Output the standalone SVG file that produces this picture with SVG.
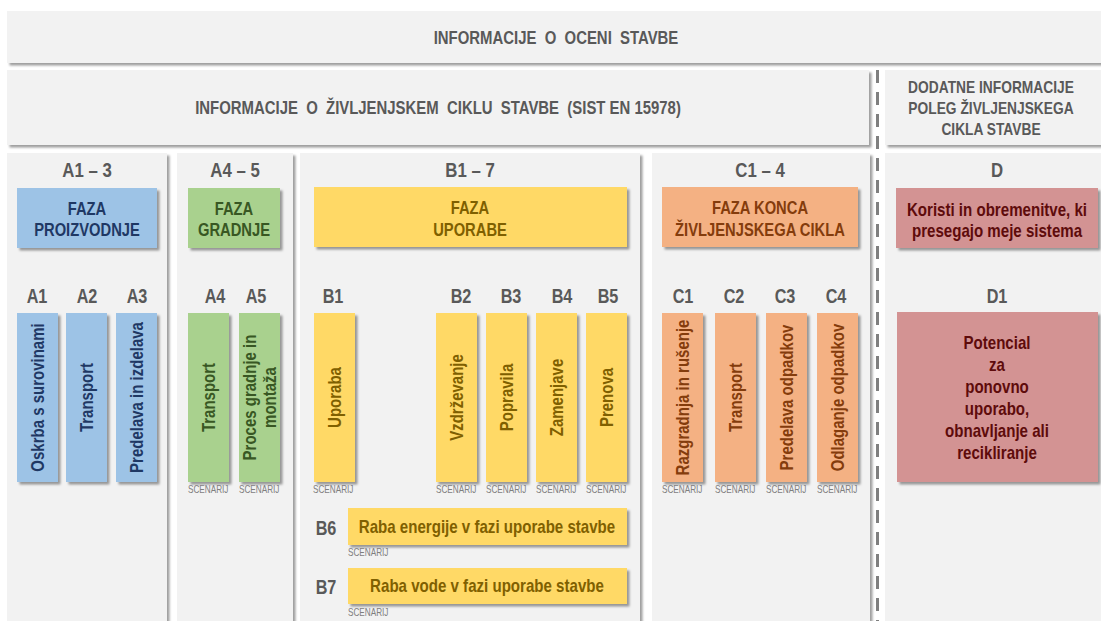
<svg xmlns="http://www.w3.org/2000/svg" width="1101" height="621" viewBox="0 0 1101 621">
<defs>
<filter id="sh" x="-0.2" y="-0.2" width="1.5" height="1.5">
<feDropShadow dx="2.5" dy="2.5" stdDeviation="1.3" flood-color="#000" flood-opacity="0.38"/>
</filter>
</defs>
<style>
text{font-family:"Liberation Sans",Arial,sans-serif;font-weight:bold;text-anchor:middle}
.panel{fill:#f2f2f2;filter:url(#sh)}
.box{filter:url(#sh)}
.hd{font-size:18.2px;fill:#595959}
.hd2{font-size:16.8px;fill:#595959}
.ttl{font-size:20.5px;fill:#595959}
.lbl{font-size:19.8px;fill:#595959}
.ph{font-size:18px}
.v{font-size:18.3px;dominant-baseline:central}
.big{font-size:18.4px}
.sc{font-size:10px;font-weight:normal;fill:#7f7f7f;text-anchor:start}
.fb{fill:#9dc3e6}.tb{fill:#1f3864}
.fg{fill:#a9d18e}.tg{fill:#385723}
.fy{fill:#ffd966}.ty{fill:#7f6000}
.fo{fill:#f4b183}.to{fill:#843c0c}
.fr{fill:#d39393}.tr{fill:#5e0b0b}
</style>
<rect width="1101" height="621" fill="#ffffff"/>

<g id="header-ocena">
<rect class="panel" x="7" y="11" width="1100" height="52"/>
<text class="hd" transform="translate(556,44) scale(.82,1)" xml:space="preserve">INFORMACIJE  O  OCENI  STAVBE</text>
</g>
<g id="header-lca">
<rect class="panel" x="7" y="70" width="862" height="75"/>
<text class="hd" transform="translate(438,114) scale(.82,1)" xml:space="preserve">INFORMACIJE  O  ŽIVLJENJSKEM  CIKLU  STAVBE  (SIST EN 15978)</text>
</g>
<g id="header-dodatne">
<rect class="panel" x="885" y="70" width="222" height="75"/>
<text class="hd2" transform="translate(991,93) scale(.82,1)">DODATNE INFORMACIJE</text>
<text class="hd2" transform="translate(991,114) scale(.82,1)">POLEG ŽIVLJENJSKEGA</text>
<text class="hd2" transform="translate(991,135) scale(.82,1)">CIKLA STAVBE</text>
</g>

<g id="divider">
<line x1="877.5" y1="70" x2="877.5" y2="621" stroke="#7f7f7f" stroke-width="3" stroke-dasharray="13 9"/>
</g>

<g id="col-a1-3">
<rect class="panel" x="7" y="153" width="160" height="480"/>
<text class="ttl" transform="translate(87,177) scale(.82,1)">A1 – 3</text>
<rect class="box fb" x="17" y="188" width="140" height="60"/>
<text class="ph tb" transform="translate(87,214.5) scale(.82,1)">FAZA</text>
<text class="ph tb" transform="translate(87,236) scale(.82,1)">PROIZVODNJE</text>
<text class="lbl" transform="translate(37,303) scale(.82,1)">A1</text>
<text class="lbl" transform="translate(87,303) scale(.82,1)">A2</text>
<text class="lbl" transform="translate(137,303) scale(.82,1)">A3</text>
</g>
<g id="a1"><rect class="box fb" x="17" y="313" width="41" height="169"/><text class="v tb" transform="translate(37.5,397.5) rotate(-90) scale(.82,1)">Oskrba s surovinami</text></g>
<g id="a2"><rect class="box fb" x="66" y="313" width="41" height="169"/><text class="v tb" transform="translate(86.5,397.5) rotate(-90) scale(.82,1)">Transport</text></g>
<g id="a3"><rect class="box fb" x="116" y="313" width="41" height="169"/><text class="v tb" transform="translate(136.5,397.5) rotate(-90) scale(.82,1)">Predelava in izdelava</text></g>

<g id="col-a4-5">
<rect class="panel" x="177" y="153" width="116" height="480"/>
<text class="ttl" transform="translate(235,177) scale(.82,1)">A4 – 5</text>
<rect class="box fg" x="188" y="188" width="92" height="60"/>
<text class="ph tg" transform="translate(234,214.5) scale(.82,1)">FAZA</text>
<text class="ph tg" transform="translate(234,236) scale(.82,1)">GRADNJE</text>
<text class="lbl" transform="translate(215,303) scale(.82,1)">A4</text>
<text class="lbl" transform="translate(256,303) scale(.82,1)">A5</text>
</g>
<g id="a4"><rect class="box fg" x="188" y="313" width="41" height="169"/><text class="v tg" transform="translate(208.5,397.5) rotate(-90) scale(.82,1)">Transport</text><text class="sc" transform="translate(188,493) scale(.82,1)">SCENARIJ</text></g>
<g id="a5"><rect class="box fg" x="239" y="313" width="41" height="169"/><text class="v tg" transform="translate(259.5,397.5) rotate(-90) scale(.82,1)"><tspan x="0" dy="-10">Proces gradnje in</tspan><tspan x="0" dy="20">montaža</tspan></text><text class="sc" transform="translate(239,493) scale(.82,1)">SCENARIJ</text></g>

<g id="col-b1-7">
<rect class="panel" x="300" y="153" width="340" height="480"/>
<text class="ttl" transform="translate(470,177) scale(.82,1)">B1 – 7</text>
<rect class="box fy" x="314" y="187" width="313" height="60"/>
<text class="ph ty" transform="translate(470,214) scale(.82,1)">FAZA</text>
<text class="ph ty" transform="translate(470,235.5) scale(.82,1)">UPORABE</text>
<text class="lbl" transform="translate(333,303) scale(.82,1)">B1</text>
<text class="lbl" transform="translate(461,303) scale(.82,1)">B2</text>
<text class="lbl" transform="translate(511,303) scale(.82,1)">B3</text>
<text class="lbl" transform="translate(562,303) scale(.82,1)">B4</text>
<text class="lbl" transform="translate(608,303) scale(.82,1)">B5</text>
</g>
<g id="b1"><rect class="box fy" x="314" y="313" width="41" height="169"/><text class="v ty" transform="translate(334.5,397.5) rotate(-90) scale(.82,1)">Uporaba</text><text class="sc" transform="translate(313,493) scale(.82,1)">SCENARIJ</text></g>
<g id="b2"><rect class="box fy" x="436" y="313" width="41" height="169"/><text class="v ty" transform="translate(456.5,397.5) rotate(-90) scale(.82,1)">Vzdrževanje</text><text class="sc" transform="translate(436,493) scale(.82,1)">SCENARIJ</text></g>
<g id="b3"><rect class="box fy" x="486" y="313" width="41" height="169"/><text class="v ty" transform="translate(506.5,397.5) rotate(-90) scale(.82,1)">Popravila</text><text class="sc" transform="translate(486,493) scale(.82,1)">SCENARIJ</text></g>
<g id="b4"><rect class="box fy" x="536" y="313" width="41" height="169"/><text class="v ty" transform="translate(556.5,397.5) rotate(-90) scale(.82,1)">Zamenjave</text><text class="sc" transform="translate(536,493) scale(.82,1)">SCENARIJ</text></g>
<g id="b5"><rect class="box fy" x="586" y="313" width="41" height="169"/><text class="v ty" transform="translate(606.5,397.5) rotate(-90) scale(.82,1)">Prenova</text><text class="sc" transform="translate(586,493) scale(.82,1)">SCENARIJ</text></g>
<g id="b6"><text class="lbl" transform="translate(326,535) scale(.82,1)">B6</text><rect class="box fy" x="348" y="508" width="279" height="37"/><text class="big ty" transform="translate(487,533) scale(.82,1)">Raba energije v fazi uporabe stavbe</text><text class="sc" transform="translate(348,556) scale(.82,1)">SCENARIJ</text></g>
<g id="b7"><text class="lbl" transform="translate(326,594) scale(.82,1)">B7</text><rect class="box fy" x="348" y="568" width="279" height="36"/><text class="big ty" transform="translate(487,592) scale(.82,1)">Raba vode v fazi uporabe stavbe</text><text class="sc" transform="translate(348,616) scale(.82,1)">SCENARIJ</text></g>

<g id="col-c1-4">
<rect class="panel" x="652" y="153" width="218" height="480"/>
<text class="ttl" transform="translate(760,177) scale(.82,1)">C1 – 4</text>
<rect class="box fo" x="662" y="187" width="196" height="60"/>
<text class="ph to" transform="translate(760,214) scale(.82,1)">FAZA KONCA</text>
<text class="ph to" transform="translate(760,235.5) scale(.82,1)">ŽIVLJENJSKEGA CIKLA</text>
<text class="lbl" transform="translate(683,303) scale(.82,1)">C1</text>
<text class="lbl" transform="translate(734,303) scale(.82,1)">C2</text>
<text class="lbl" transform="translate(785,303) scale(.82,1)">C3</text>
<text class="lbl" transform="translate(836,303) scale(.82,1)">C4</text>
</g>
<g id="c1"><rect class="box fo" x="662" y="313" width="41" height="169"/><text class="v to" transform="translate(682.5,397.5) rotate(-90) scale(.82,1)">Razgradnja in rušenje</text><text class="sc" transform="translate(662,493) scale(.82,1)">SCENARIJ</text></g>
<g id="c2"><rect class="box fo" x="715" y="313" width="41" height="169"/><text class="v to" transform="translate(735.5,397.5) rotate(-90) scale(.82,1)">Transport</text><text class="sc" transform="translate(715,493) scale(.82,1)">SCENARIJ</text></g>
<g id="c3"><rect class="box fo" x="766" y="313" width="41" height="169"/><text class="v to" transform="translate(786.5,397.5) rotate(-90) scale(.82,1)">Predelava odpadkov</text><text class="sc" transform="translate(766,493) scale(.82,1)">SCENARIJ</text></g>
<g id="c4"><rect class="box fo" x="817" y="313" width="41" height="169"/><text class="v to" transform="translate(837.5,397.5) rotate(-90) scale(.82,1)">Odlaganje odpadkov</text><text class="sc" transform="translate(817,493) scale(.82,1)">SCENARIJ</text></g>

<g id="col-d">
<rect class="panel" x="885" y="153" width="222" height="480"/>
<text class="ttl" transform="translate(997,177) scale(.82,1)">D</text>
<rect class="box fr" x="896" y="188" width="202" height="60"/>
<text class="big tr" transform="translate(997,216) scale(.82,1)">Koristi in obremenitve, ki</text>
<text class="big tr" transform="translate(997,237) scale(.82,1)">presegajo meje sistema</text>
<text class="lbl" transform="translate(997,303) scale(.82,1)">D1</text>
</g>
<g id="d1">
<rect class="box fr" x="897" y="312" width="201" height="170"/>
<text class="big tr" transform="translate(997,349) scale(.82,1)">Potencial</text>
<text class="big tr" transform="translate(997,371) scale(.82,1)">za</text>
<text class="big tr" transform="translate(997,393) scale(.82,1)">ponovno</text>
<text class="big tr" transform="translate(997,415) scale(.82,1)">uporabo,</text>
<text class="big tr" transform="translate(997,437) scale(.82,1)">obnavljanje ali</text>
<text class="big tr" transform="translate(997,459) scale(.82,1)">recikliranje</text>
</g>
</svg>
